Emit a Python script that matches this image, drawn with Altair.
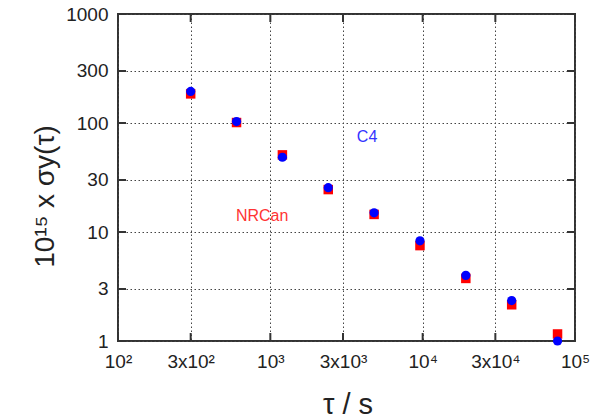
import altair as alt
import pandas as pd

# data
tau = [300, 600, 1200, 2400, 4800, 9600, 19200, 38400, 76800]
sigma_nrcan = [185, 101, 51, 24.5, 14.5, 7.5, 3.75, 2.15, 1.16]
sigma_c4 = [195, 103, 48.5, 25.5, 15.0, 8.3, 4.0, 2.35, 1.0]

xtick_values = [100, 300, 1000, 3000, 10000, 30000, 100000]
xtick_labels = ["10²", "3x10²", "10³", "3x10³", "10⁴", "3x10⁴", "10⁵"]
ytick_values = [1, 3, 10, 30, 100, 300, 1000]
ytick_labels = ["1", "3", "10", "30", "100", "300", "1000"]

label_text = ["C4", "NRCan"]
label_tau = [4315, 884]
label_sigma = [74.4, 14.0]
label_color = ["#3333ff", "#ff3333"]

W, H = 457, 327
FONT = "Liberation Sans"

df_red = pd.DataFrame({"tau": tau, "sigma": sigma_nrcan})
df_blue = pd.DataFrame({"tau": tau, "sigma": sigma_c4})
df_xt = pd.DataFrame({"tau": xtick_values})
df_yt = pd.DataFrame({"sigma": ytick_values})
df_lab = pd.DataFrame({"tau": label_tau, "sigma": label_sigma,
                       "text": label_text, "color": label_color})

xscale = alt.Scale(type="log", domain=[100, 100000], nice=False)
yscale = alt.Scale(type="log", domain=[1, 1000], nice=False)


def expr(values, labels):
    parts = ""
    for v, l in zip(values, labels):
        parts += f"datum.value == {v} ? '{l}' : "
    return parts + "''"


xaxis = alt.Axis(values=xtick_values, labelExpr=expr(xtick_values, xtick_labels),
                 title="τ / s", titleFontSize=29, titleFontWeight="normal",
                 titleFont=FONT, titleX=W / 2 + 1, titleY=72,
                 titleBaseline="alphabetic", titleColor="#222",
                 labelFont=FONT, labelFontSize=19, labelColor="#222",
                 labelPadding=11, labelFlush=False, labelOverlap=False,
                 ticks=False, domain=False,
                 grid=True, gridColor="#444", gridDash=[1.5, 2.5], gridWidth=1)
yaxis = alt.Axis(values=ytick_values, labelExpr=expr(ytick_values, ytick_labels),
                 title="10¹⁵ x σy(τ)", titleFontSize=28, titleFontWeight="normal",
                 titleFont=FONT, titleAngle=-90, titleX=-73, titleY=182,
                 titleAlign="center", titleBaseline="middle", titleColor="#222",
                 labelFont=FONT, labelFontSize=19, labelColor="#222",
                 labelPadding=10, labelFlush=False, labelOverlap=False,
                 ticks=False, domain=False,
                 grid=True, gridColor="#444", gridDash=[1.5, 2.5], gridWidth=1)

X = alt.X("tau:Q", scale=xscale, axis=xaxis)
Y = alt.Y("sigma:Q", scale=yscale, axis=yaxis)

tick_len = 8
xt_bottom = alt.Chart(df_xt).mark_rule(color="#333", strokeWidth=2).encode(
    x=X, y=alt.value(H), y2=alt.value(H - tick_len))
xt_top = alt.Chart(df_xt).mark_rule(color="#333", strokeWidth=2).encode(
    x=X, y=alt.value(0), y2=alt.value(tick_len))
yt_left = alt.Chart(df_yt).mark_rule(color="#333", strokeWidth=2).encode(
    y=Y, x=alt.value(0), x2=alt.value(tick_len))
yt_right = alt.Chart(df_yt).mark_rule(color="#333", strokeWidth=2).encode(
    y=Y, x=alt.value(W), x2=alt.value(W - tick_len))

red = alt.Chart(df_red).mark_square(size=90, color="#ff0000", opacity=1).encode(
    x=X, y=Y)
blue = alt.Chart(df_blue).mark_circle(size=85, color="#0000ff", opacity=1).encode(
    x=X, y=Y)

labels = alt.Chart(df_lab).mark_text(font=FONT, fontSize=16, align="center",
                                     baseline="middle").encode(
    x=X, y=Y,
    text="text:N",
    color=alt.Color("color:N", scale=None))

chart = alt.layer(xt_bottom, xt_top, yt_left, yt_right, red, blue, labels).properties(
    width=W, height=H,
    autosize=alt.AutoSizeParams(type="none"),
    padding={"left": 118, "top": 14, "right": 15, "bottom": 78},
    background="white",
).configure_view(stroke="#333", strokeWidth=2)

chart.save("out.html", embed_options={"renderer": "svg", "actions": False})
